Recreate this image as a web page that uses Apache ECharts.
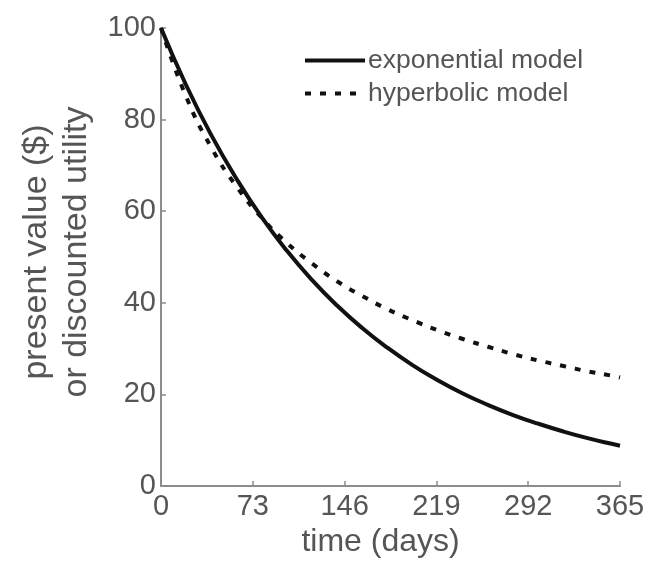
<!DOCTYPE html>
<html><head><meta charset="utf-8">
<script src="https://cdn.jsdelivr.net/npm/echarts@6/dist/echarts.min.js"></script>
<style>html,body{margin:0;padding:0;background:#fff}#c{width:651px;height:563px}</style>
</head><body><div id="c"></div>
<script>
const days = [0,20,40,60,80,100,120,140,160,180,200,220,240,260,280,300,320,340,360,365];
const exponential = [100,87.5,76.6,67.1,58.7,51.4,45.0,39.4,34.5,30.2,26.4,23.1,20.2,17.7,15.5,13.6,11.9,10.4,9.1,8.8];
const hyperbolic = [100,85.0,73.9,65.4,58.6,53.1,48.6,44.7,41.5,38.6,36.2,34.0,32.1,30.4,28.8,27.4,26.2,25.0,24.0,23.7];
const seriesNames = ['exponential model','hyperbolic model'];
const xTicks = [0,73,146,219,292,365];
const yTicks = [0,20,40,60,80,100];

const font = 'Liberation Sans';
const txt = '#555';
const axisCol = '#8c8c8c';
const chart = echarts.init(document.getElementById('c'));
chart.setOption({
  animation:false,
  backgroundColor:'#fff',
  grid:{left:161,top:28,width:459,height:459},
  legend:{
    orient:'vertical', left:298, top:42, itemWidth:60, itemHeight:14, itemGap:6,
    itemStyle:{opacity:0},
    lineStyle:{width:4},
    textStyle:{fontFamily:font,fontSize:26.5,color:txt,padding:[0,0,0,-2]},
    data:seriesNames
  },
  xAxis:{
    type:'value', min:xTicks[0], max:xTicks[xTicks.length-1], interval:xTicks[1]-xTicks[0],
    name:'time (days)', nameLocation:'middle', nameGap:40,
    nameTextStyle:{fontFamily:font,fontSize:32,color:txt,padding:[0,20,0,0]},
    axisLine:{lineStyle:{color:axisCol,width:2}},
    axisTick:{inside:true,length:5,lineStyle:{color:axisCol,width:1.5}},
    axisLabel:{fontFamily:font,fontSize:29,color:txt,margin:6},
    splitLine:{show:false}
  },
  yAxis:{
    type:'value', min:yTicks[0], max:yTicks[yTicks.length-1], interval:yTicks[1]-yTicks[0],
    name:'present value ($)\nor discounted utility', nameLocation:'middle', nameGap:64, nameRotate:90,
    nameTextStyle:{fontFamily:font,fontSize:34,color:txt,lineHeight:40,padding:[0,0,0,10]},
    axisLine:{show:true,lineStyle:{color:axisCol,width:2}},
    axisTick:{show:true,inside:true,length:5,lineStyle:{color:axisCol,width:1.5}},
    axisLabel:{fontFamily:font,fontSize:29,color:txt,margin:5},
    splitLine:{show:false}
  },
  series:[
    {name:seriesNames[0], type:'line', symbol:'none', smooth:true, z:3,
     data:days.map((d,i)=>[d,exponential[i]]),
     lineStyle:{color:'#111',width:4}, itemStyle:{color:'#111'}},
    {name:seriesNames[1], type:'line', symbol:'none', smooth:true, z:2,
     data:days.map((d,i)=>[d,hyperbolic[i]]),
     lineStyle:{color:'#111',width:4,type:[6,9]}, itemStyle:{color:'#111'}}
  ]
});
</script></body></html>
